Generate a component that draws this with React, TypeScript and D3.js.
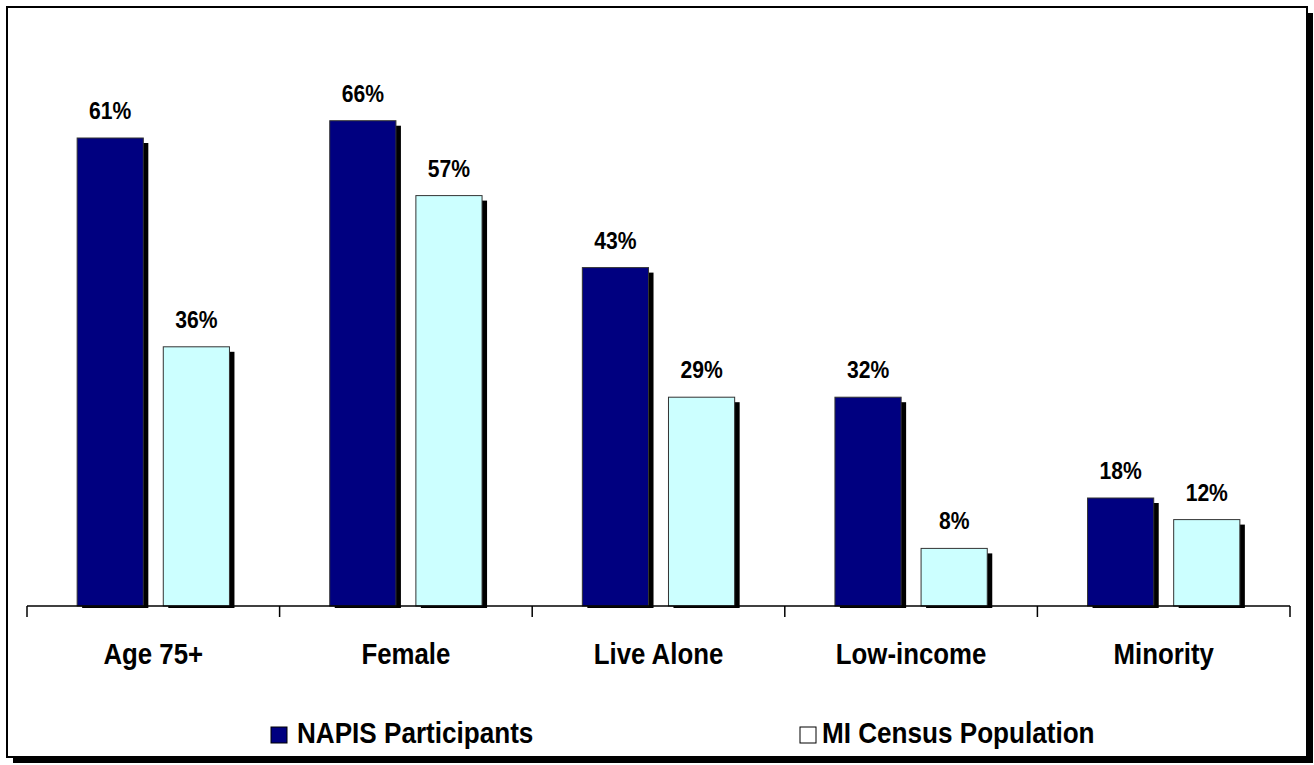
import React from "react";
import * as d3 from "d3";

const categories = ["Age 75+", "Female", "Live Alone", "Low-income", "Minority"];
const seriesNames = ["NAPIS Participants", "MI Census Population"];
// bar heights as drawn in the reference (percent)
const napisValues = [65, 67.4, 47, 29, 15];
const censusValues = [36, 57, 29, 8, 12];
// data labels as printed
const napisLabels = ["61%", "66%", "43%", "32%", "18%"];
const censusLabels = ["36%", "57%", "29%", "8%", "12%"];
const colors = ["#000080", "#CCFFFF"];

const W = 1314;
const H = 765;
const FONT = "'Liberation Sans', Arial, sans-serif";

export default function App() {
  const baseY = 606;
  const x = d3.scaleBand<string>().domain(categories).range([27, 1290]).paddingInner(0).paddingOuter(0);
  const y = d3.scaleLinear().domain([0, 80]).range([baseY, baseY - 7.2 * 80]);
  const bw = x.bandwidth();
  const barW = bw * 0.262;
  const gap = bw * 0.079;
  const series = [
    { name: seriesNames[0], values: napisValues, labels: napisLabels, color: colors[0] },
    { name: seriesNames[1], values: censusValues, labels: censusLabels, color: colors[1] },
  ];
  const ticks = [...categories.map((c) => x(c)!), 1290];
  const sh = 5;

  const Txt = ({ tx, ty, size, sx, anchor, children }: any) => (
    <g transform={`translate(${tx},${ty}) scale(${sx},1)`}>
      <text x={0} y={0} fontSize={size} fontWeight="bold" fontFamily={FONT} textAnchor={anchor} fill="#000">
        {children}
      </text>
    </g>
  );

  return (
    <svg width={W} height={H} style={{ position: "absolute", left: 0, top: 0, background: "#fff" }}>
      {/* frame with shadow */}
      <rect x={13} y={13} width={1300} height={750} fill="#000" />
      <rect x={7} y={7} width={1300} height={750} fill="#fff" stroke="#000" strokeWidth={2} />

      {/* bars */}
      {categories.map((c, i) => {
        const cx = x(c)! + bw / 2;
        const groupW = barW * 2 + gap;
        return series.map((s, j) => {
          const bx = cx - groupW / 2 + j * (barW + gap);
          const top = y(s.values[i]);
          return (
            <g key={c + j}>
              <rect x={bx + sh} y={top + sh} width={barW} height={baseY + 2 - top - sh} fill="#000" />
              <rect x={bx} y={top} width={barW} height={baseY - top} fill={s.color} stroke="#333" strokeWidth={1} />
              <Txt tx={bx + barW / 2} ty={top - 19} size={24} sx={0.88} anchor="middle">
                {s.labels[i]}
              </Txt>
            </g>
          );
        });
      })}

      {/* axis */}
      <line x1={27} x2={1290} y1={baseY} y2={baseY} stroke="#000" strokeWidth={1.5} />
      {ticks.map((t, i) => (
        <line key={i} x1={t} x2={t} y1={baseY} y2={baseY + 11} stroke="#000" strokeWidth={1.5} />
      ))}
      {categories.map((c) => (
        <Txt key={c} tx={x(c)! + bw / 2} ty={664} size={29} sx={0.89} anchor="middle">
          {c}
        </Txt>
      ))}

      {/* legend */}
      <rect x={271} y={727} width={16} height={16} fill={colors[0]} stroke="#000" strokeWidth={1} />
      <Txt tx={297} ty={743} size={30} sx={0.87} anchor="start">{seriesNames[0]}</Txt>
      <rect x={800} y={727} width={16} height={16} fill="#fff" stroke="#000" strokeWidth={1} />
      <Txt tx={822} ty={743} size={30} sx={0.87} anchor="start">{seriesNames[1]}</Txt>
    </svg>
  );
}
